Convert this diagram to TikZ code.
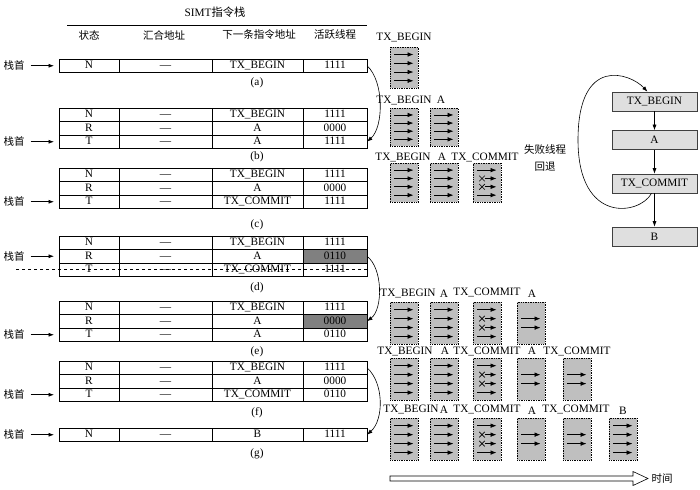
\documentclass[tikz,border=0pt]{standalone}
\usepackage{fontspec}
\setmainfont{Liberation Serif}
\newfontfamily\cjk{Noto Sans CJK SC}
\usetikzlibrary{arrows.meta,calc}
\tikzset{
  cell/.style={draw, anchor=north west, minimum height=13.5pt, inner sep=0pt, outer sep=0pt,
    font=\fontsize{11.3}{12}\selectfont, text height=7.5pt, text depth=1.5pt, line width=0.6pt},
  lab/.style={inner sep=0pt, font=\fontsize{11.3}{12}\selectfont},
  clab/.style={inner sep=0pt, font=\cjk\fontsize{10.5}{12}\selectfont},
  ptr/.style={-{Latex[length=5.5pt,width=4pt]}, line width=0.6pt},
  thr/.style={-{Latex[length=6pt,width=4.6pt]}, line width=0.7pt},
  tbox/.style={draw, densely dotted, line width=0.7pt, fill=gray!50, minimum width=28pt,
    anchor=north west, inner sep=0pt},
  fbox/.style={draw=black!75, fill=gray!25, minimum width=85pt, minimum height=19pt,
    inner sep=0pt, font=\fontsize{11.3}{12}\selectfont, line width=0.6pt},
}
\newcommand{\trow}[6]{%
  \node[cell,minimum width=60pt] (#1-s) at (59,#2) {#3};
  \node[cell,minimum width=93pt] (#1-h) at (119,#2) {—};
  \node[cell,minimum width=91pt] (#1-n) at (212,#2) {#4};
  \node[cell,minimum width=64pt,fill=#6] (#1-a) at (303,#2) {#5};}
\newcommand{\tbf}[4]{%
  \node[tbox,minimum height=#4pt] (#1) at (#2,#3) {};
  \foreach \f in {0.18,0.39,0.6,0.81}{\draw[thr] ($(#1.north west)!\f!(#1.south west)+(4,0)$) -- ++(19.5,0);}}
\newcommand{\tbm}[4]{%
  \node[tbox,minimum height=#4pt] (#1) at (#2,#3) {};
  \foreach \f in {0.39,0.6}{\draw[thr] ($(#1.north west)!\f!(#1.south west)+(4,0)$) -- ++(19.5,0);}}
\newcommand{\tbc}[4]{%
  \node[tbox,minimum height=#4pt] (#1) at (#2,#3) {};
  \foreach \f in {0.18,0.81}{\draw[thr] ($(#1.north west)!\f!(#1.south west)+(4,0)$) -- ++(19.5,0);}
  \foreach \f in {0.39,0.6}{%
    \coordinate (#1x) at ($(#1.north west)!\f!(#1.south west)+(9,0)$);
    \draw[line width=0.6pt] (#1x) +(-2.8,-2.8) -- +(2.8,2.8) (#1x) +(-2.8,2.8) -- +(2.8,-2.8);
    \draw[thr] ($(#1x)+(3,0)$) -- ++(11.5,0);}}
\begin{document}
\begin{tikzpicture}[x=1pt,y=-1pt]
\useasboundingbox (0,0) rectangle (700,489);
% header
\node[lab] (title) at (215,12) {SIMT{\cjk 指令栈}};
\coordinate (hl) at (67,25);
\coordinate (hr) at (367,25);
\draw[line width=0.6pt] (hl) -- (hr);
\node[clab] (h1) at (89,35) {状态};
\node[clab] (h2) at (164,35) {汇合地址};
\node[clab] (h3) at (259,35) {下一条指令地址};
\node[clab] (h4) at (335,35) {活跃线程};
% table a
\trow{a1}{59}{N}{TX\_BEGIN}{1111}{white}
\node[lab] (la) at (257,83) {(a)};
% table b
\trow{b1}{108}{N}{TX\_BEGIN}{1111}{white}
\trow{b2}{121.5}{R}{A}{0000}{white}
\trow{b3}{135}{T}{A}{1111}{white}
\node[lab] (lb) at (257,157) {(b)};
% table c
\trow{c1}{168}{N}{TX\_BEGIN}{1111}{white}
\trow{c2}{181.5}{R}{A}{0000}{white}
\trow{c3}{195}{T}{TX\_COMMIT}{1111}{white}
\node[lab] (lc) at (257,225) {(c)};
% table d
\trow{d1}{236}{N}{TX\_BEGIN}{1111}{white}
\trow{d2}{249.5}{R}{A}{0110}{black!50}
\trow{d3}{263}{T}{TX\_COMMIT}{1111}{white}
\coordinate (dl) at (15,270);
\draw[dashed, line width=0.6pt] (d3-a.east) -- (d3-a.east -| dl);
\node[lab] (ld) at (257,288) {(d)};
% table e
\trow{e1}{301}{N}{TX\_BEGIN}{1111}{white}
\trow{e2}{314.5}{R}{A}{0000}{black!50}
\trow{e3}{328}{T}{A}{0110}{white}
\node[lab] (le) at (257,352) {(e)};
% table f
\trow{f1}{361}{N}{TX\_BEGIN}{1111}{white}
\trow{f2}{374.5}{R}{A}{0000}{white}
\trow{f3}{388}{T}{TX\_COMMIT}{0110}{white}
\node[lab] (lf) at (257,413) {(f)};
% table g
\trow{g1}{428}{N}{B}{1111}{white}
\node[lab] (lg) at (257,454) {(g)};
% stack-top pointers
\foreach \r/\n in {a1/za,b3/zb,c3/zc,d2/zd,e3/ze,f3/zf,g1/zg}{
  \path (\r-s.west) ++(-45,0) node[clab] (\n) {栈首};
  \draw[ptr, shorten <=6pt, shorten >=5pt] (\n.east) -- (\r-s.west);
}
% curved transitions
\draw[ptr] (a1-a.east) .. controls +(17,15) and +(17,-15) .. (b3-a.east);
\draw[ptr] (d2-a.east) .. controls +(16,12) and +(16,-12) .. (e2-a.east);
\draw[ptr] (f1-a.east) .. controls +(17,15) and +(17,-15) .. (g1-a.east);
% thread rows
% row 1
\tbf{r1a}{390}{47}{41}
\node[lab] (t1a) at (404,37) {TX\_BEGIN};
% row 2
\tbf{r2a}{390}{108}{38}
\tbf{r2b}{430}{108}{38}
\node[lab] (t2a) at (404,100) {TX\_BEGIN};
\node[lab] (t2b) at (441,100) {A};
% row 3
\tbf{r3a}{390}{163}{39}
\tbf{r3b}{430}{163}{39}
\tbc{r3c}{473}{163}{39}
\node[lab] (t3a) at (403,157) {TX\_BEGIN};
\node[lab] (t3b) at (442,157) {A};
\node[lab] (t3c) at (485,157) {TX\_COMMIT};
% row 4
\tbf{r4a}{390}{302}{42}
\tbf{r4b}{430}{302}{42}
\tbc{r4c}{473}{302}{42}
\tbm{r4d}{517}{302}{42}
\node[lab] (t4a) at (408,293) {TX\_BEGIN};
\node[lab] (t4b) at (444,294) {A};
\node[lab] (t4c) at (487,292) {TX\_COMMIT};
\node[lab] (t4d) at (532,294) {A};
% row 5
\tbf{r5a}{390}{358}{42}
\tbf{r5b}{430}{358}{42}
\tbc{r5c}{473}{358}{42}
\tbm{r5d}{517}{358}{42}
\tbm{r5e}{563}{358}{42}
\node[lab] (t5a) at (405,351) {TX\_BEGIN};
\node[lab] (t5b) at (445,351) {A};
\node[lab] (t5c) at (487,351) {TX\_COMMIT};
\node[lab] (t5d) at (532,351) {A};
\node[lab] (t5e) at (577,351) {TX\_COMMIT};
% row 6
\tbf{r6a}{390}{418}{42}
\tbf{r6b}{430}{418}{42}
\tbc{r6c}{473}{418}{42}
\tbm{r6d}{517}{418}{42}
\tbm{r6e}{563}{418}{42}
\tbf{r6f}{609}{418}{42}
\node[lab] (t6a) at (411,409) {TX\_BEGIN};
\node[lab] (t6b) at (444,410) {A};
\node[lab] (t6c) at (487,409) {TX\_COMMIT};
\node[lab] (t6d) at (532,411) {A};
\node[lab] (t6e) at (576,409) {TX\_COMMIT};
\node[lab] (t6f) at (623,411) {B};
% time arrow
\draw[line width=0.6pt, fill=white] (390,476) -- (633,476) -- (633,471.5) -- (648,478.5) -- (633,485.5) -- (633,481) -- (390,481) -- cycle;
\node[clab] (time) at (662,478.5) {时间};
% flow on the right
\node[fbox] (fb) at (654.5,101.5) {TX\_BEGIN};
\node[fbox] (fa) at (654.5,140) {A};
\node[fbox] (fc) at (654.5,183.5) {TX\_COMMIT};
\node[fbox] (fd) at (654.5,236.5) {B};
\draw[ptr] (fb) -- (fa);
\draw[ptr] (fa) -- (fc);
\draw[ptr] (fc) -- (fd);
\draw[ptr] ([xshift=-3pt]fc.south) .. controls (640,215) and (578,225) .. (578,140)
   .. controls (578,55) and (630,73) .. ([xshift=-7pt]fb.north);
\node[clab] (fail1) at (545,150) {失败线程};
\node[clab] (fail2) at (545,167) {回退};
\end{tikzpicture}
\end{document}
